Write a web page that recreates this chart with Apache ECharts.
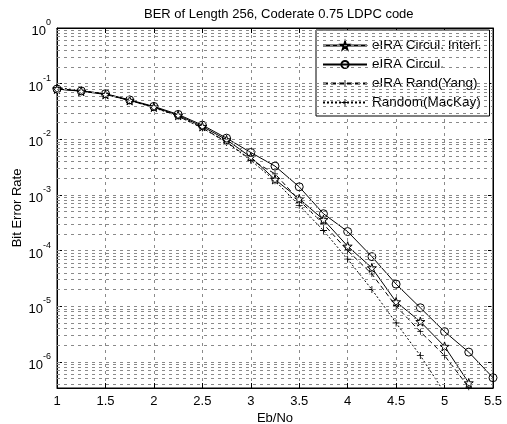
<!DOCTYPE html>
<html>
<head>
<meta charset="utf-8">
<script src="https://cdn.jsdelivr.net/npm/echarts@6/dist/echarts.min.js"></script>
<style>
html,body{margin:0;padding:0;background:#fff;}
#chart{width:507px;height:424px;}
</style>
</head>
<body>
<div id="chart"></div>
<script>
// ---- data ----
const titleText = 'BER of Length 256, Coderate 0.75 LDPC code';
const xLabel = 'Eb/No';
const yLabel = 'Bit Error Rate';
const seriesNames = ['eIRA Circul. Interl.', 'eIRA Circul.', 'eIRA Rand(Yang)', 'Random(MacKay)'];
const ebno = [1, 1.25, 1.5, 1.75, 2, 2.25, 2.5, 2.75, 3, 3.25, 3.5, 3.75, 4, 4.25, 4.5, 4.75, 5, 5.25, 5.5];
const berCircInterl = [0.08, 0.073, 0.064, 0.05, 0.038, 0.027, 0.017, 0.0098, 0.0048, 0.0019, 8.5e-4, 3.6e-4, 1.2e-4, 4.9e-5, 1.2e-5, 5.3e-6, 1.9e-6, 4.2e-7];
const berCirc = [0.08, 0.074, 0.066, 0.051, 0.039, 0.028, 0.018, 0.0105, 0.0058, 0.0033, 0.0014, 4.6e-4, 2.2e-4, 7.8e-5, 2.5e-5, 9.4e-6, 3.5e-6, 1.5e-6, 5.2e-7];
const berYang = [0.082, 0.074, 0.065, 0.05, 0.038, 0.026, 0.016, 0.009, 0.0043, 0.0024, 8e-4, 3e-4, 1.0e-4, 3.8e-5, 1.0e-5, 3.5e-6, 1.3e-6, 3.5e-7];
const berMacKay = [0.085, 0.075, 0.065, 0.05, 0.037, 0.026, 0.016, 0.0088, 0.0042, 0.0018, 6.5e-4, 2.3e-4, 7e-5, 2.0e-5, 5e-6, 1.3e-6, 2.8e-7];
const xTicks = [1, 1.5, 2, 2.5, 3, 3.5, 4, 4.5, 5, 5.5];
const yDecades = [1, 1e-1, 1e-2, 1e-3, 1e-4, 1e-5, 1e-6];
const yMin = 3.4e-7, yMax = 1;

// ---- styling ----
const FONT = '"Liberation Sans", Arial, Helvetica, sans-serif';
const starPath = 'path://M50,0 L61,35 L98,35 L68,57 L79,91 L50,70 L21,91 L32,57 L2,35 L39,35 Z';
const plusPath = 'path://M4.4,0 L5.6,0 L5.6,4.4 L10,4.4 L10,5.6 L5.6,5.6 L5.6,10 L4.4,10 L4.4,5.6 L0,5.6 L0,4.4 L4.4,4.4 Z';

function pairs(vals) { return vals.map((v, i) => [ebno[i], v]); }

// grid lines (major at decades, minor at 2..9 x 10^k)
const majorGrid = yDecades.slice(1).map(v => ({ yAxis: v }));
const minorGrid = [];
for (let k = -7; k <= -1; k++) {
  for (let m = 2; m <= 9; m++) {
    const v = m * Math.pow(10, k);
    if (v > yMin && v < yMax) minorGrid.push({ yAxis: v });
  }
}

function yFmt(value) {
  const l = Math.log10(value);
  const e = Math.round(l);
  if (Math.abs(l - e) > 0.01) return '';
  return '{b|10}{s|' + e + '}';
}

const tickStyle = { show: true, inside: true, length: 5, lineStyle: { color: '#000' } };

const chart = echarts.init(document.getElementById('chart'), null, { renderer: 'canvas' });
chart.setOption({
  animation: false,
  backgroundColor: '#fff',
  title: {
    text: titleText, left: 139, top: 3,
    textStyle: { fontFamily: FONT, fontSize: 13, fontWeight: 'normal', color: '#000' }
  },
  grid: { left: 57, right: 14, top: 28, bottom: 36, outerBoundsMode: 'none', containLabel: false,
    show: true, borderColor: '#000', borderWidth: 1, backgroundColor: 'transparent' },
  legend: {
    orient: 'vertical', left: 316, top: 30,
    data: seriesNames,
    itemWidth: 44, itemHeight: 9, itemGap: 4,
    padding: [8, 8, 6, 6],
    borderColor: '#000', borderWidth: 1, backgroundColor: '#fff',
    textStyle: { fontFamily: FONT, fontSize: 13.5, color: '#000', lineHeight: 15 }
  },
  xAxis: [{
    type: 'value', min: 1, max: 5.5, interval: 0.5,
    name: xLabel, nameLocation: 'middle', nameGap: 24, nameMoveOverlap: false,
    nameTextStyle: { fontFamily: FONT, fontSize: 13, color: '#000' },
    axisLine: { show: true, onZero: false, lineStyle: { color: '#000' } },
    axisTick: tickStyle,
    axisLabel: { fontFamily: FONT, fontSize: 13, color: '#000', margin: 7,
      formatter: v => (xTicks.indexOf(v) >= 0 ? String(v) : '') },
    splitLine: { show: true, lineStyle: { color: '#8a8a8a', type: [3, 4], width: 1 } }
  }, {
    type: 'value', min: 1, max: 5.5, interval: 0.5, position: 'top',
    axisLine: { show: true, onZero: false, lineStyle: { color: '#000' } },
    axisTick: tickStyle,
    axisLabel: { show: false }, splitLine: { show: false }
  }],
  yAxis: [{
    type: 'log', logBase: 10, min: yMin, max: yMax, splitNumber: 7,
    name: yLabel, nameLocation: 'middle', nameGap: 33, nameMoveOverlap: false,
    nameTextStyle: { fontFamily: FONT, fontSize: 13, color: '#000' },
    axisLine: { show: true, onZero: false, lineStyle: { color: '#000' } },
    axisTick: tickStyle,
    axisLabel: {
      formatter: yFmt, margin: 6, color: '#000', showMinLabel: false,
      rich: {
        b: { fontFamily: FONT, fontSize: 13, color: '#000', lineHeight: 20, verticalAlign: 'bottom' },
        s: { fontFamily: FONT, fontSize: 9, color: '#000', lineHeight: 10, verticalAlign: 'top' }
      }
    },
    splitLine: { show: false }
  }, {
    type: 'log', logBase: 10, min: yMin, max: yMax, splitNumber: 7, position: 'right',
    axisLine: { show: true, onZero: false, lineStyle: { color: '#000' } },
    axisTick: tickStyle,
    axisLabel: { show: false }, splitLine: { show: false }
  }],
  series: [{
    name: seriesNames[0], type: 'line', data: pairs(berCircInterl),
    symbol: starPath, symbolSize: 9,
    lineStyle: { color: '#000', width: 1, type: 'solid' },
    itemStyle: { color: '#fff', borderColor: '#000', borderWidth: 1 },
    z: 4
  }, {
    name: seriesNames[1], type: 'line', data: pairs(berCirc),
    symbol: 'circle', symbolSize: 8,
    lineStyle: { color: '#000', width: 1, type: 'solid' },
    itemStyle: { color: 'rgba(255,255,255,0)', borderColor: '#000', borderWidth: 1 },
    z: 4
  }, {
    name: seriesNames[2], type: 'line', data: pairs(berYang),
    symbol: plusPath, symbolSize: 6,
    lineStyle: { color: '#000', width: 1, type: [5, 3] },
    itemStyle: { color: '#000' },
    z: 3
  }, {
    name: seriesNames[3], type: 'line', data: pairs(berMacKay),
    symbol: plusPath, symbolSize: 7,
    lineStyle: { color: '#000', width: 1, type: [2, 2] },
    itemStyle: { color: '#000' },
    z: 3
  }, {
    name: '_grid', type: 'line', data: [], silent: true,
    markLine: {
      silent: true, symbol: 'none', label: { show: false }, animation: false, precision: 12,
      lineStyle: { color: '#8a8a8a', type: [3, 4], width: 1 },
      data: majorGrid.concat(minorGrid)
    },
    z: 1
  }]
});
</script>
</body>
</html>
